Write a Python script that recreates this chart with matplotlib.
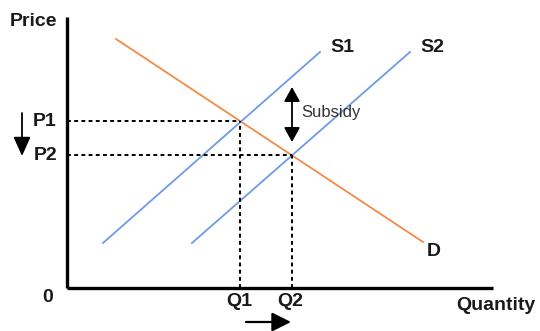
import matplotlib
matplotlib.use("Agg")
import matplotlib.pyplot as plt

# curve endpoints (quantity, price) in chart units, origin at axis corner
demand_q = [49, 356]
demand_p = [249, 46]
s1_q = [36, 253]
s1_p = [45, 236]
s2_q = [125, 343]
s2_p = [45, 236]

# equilibria
q1, p1 = 173, 167
q2, p2 = 225, 133
subsidy_top, subsidy_bottom = 201, 146

x_max, y_max = 426, 271

plt.rcParams['font.family'] = ['Liberation Sans', 'DejaVu Sans']

fig = plt.figure(figsize=(5.4, 3.31), dpi=100)
ax = fig.add_axes([0, 0, 1, 1])
ax.set_xlim(-67, 473)
ax.set_ylim(-43, 288)
ax.axis('off')

orange = '#f58a45'
blue = '#6f9ae6'

# axes
ax.plot([0, 0], [0, y_max], color='black', lw=2.4, solid_capstyle='butt')
ax.plot([0, x_max], [0, 0], color='black', lw=2.4, solid_capstyle='butt')

# curves
ax.plot(demand_q, demand_p, color=orange, lw=1.3)
ax.plot(s1_q, s1_p, color=blue, lw=1.3)
ax.plot(s2_q, s2_p, color=blue, lw=1.3)

# dashed guides
for q, p in [(q1, p1), (q2, p2)]:
    ax.plot([0, q], [p, p], color='black', lw=1.4, dashes=(2, 1.7))
    ax.plot([q, q], [0, p], color='black', lw=1.4, dashes=(2, 1.7))

# subsidy arrow
ax.annotate('', xy=(q2, subsidy_bottom), xytext=(q2, subsidy_top),
            arrowprops=dict(arrowstyle='<|-|>,head_length=0.4,head_width=0.22',
                            color='black', lw=1.3,
                            mutation_scale=22, shrinkA=0, shrinkB=0))
ax.text(q2 + 9, (subsidy_top + subsidy_bottom) / 2 + 2, 'Subsidy', fontsize=12,
        color='#333333', va='center', ha='left')

# price fall arrow
ax.annotate('', xy=(-45, 132), xytext=(-45, 175),
            arrowprops=dict(arrowstyle='-|>,head_length=0.4,head_width=0.18',
                            color='black', lw=1.3,
                            mutation_scale=29, shrinkA=0, shrinkB=0))
# quantity rise arrow
ax.annotate('', xy=(224, -34), xytext=(179, -34),
            arrowprops=dict(arrowstyle='-|>,head_length=0.4,head_width=0.2',
                            color='black', lw=1.6,
                            mutation_scale=29, shrinkA=0, shrinkB=0))

bold = dict(fontsize=14, fontweight='bold', color='#1a1a1a')
ax.text(-10, 266, 'Price', ha='right', va='center', **bold)
ax.text(-10, p1, 'P1', ha='right', va='center', **bold)
ax.text(-10, p2, 'P2', ha='right', va='center', **bold)
ax.text(-19, -10, '0', ha='center', va='center', **bold)
ax.text(q1 - 1, -13, 'Q1', ha='center', va='center', **bold)
ax.text(q2 - 2, -13, 'Q2', ha='center', va='center', **bold)
ax.text(429, -18, 'Quantity', ha='center', va='center', **bold)
ax.text(263, 241, 'S1', ha='left', va='center', **bold)
ax.text(353, 241, 'S2', ha='left', va='center', **bold)
ax.text(367, 36, 'D', ha='center', va='center', **bold)

fig.savefig('out.png', dpi=100)
